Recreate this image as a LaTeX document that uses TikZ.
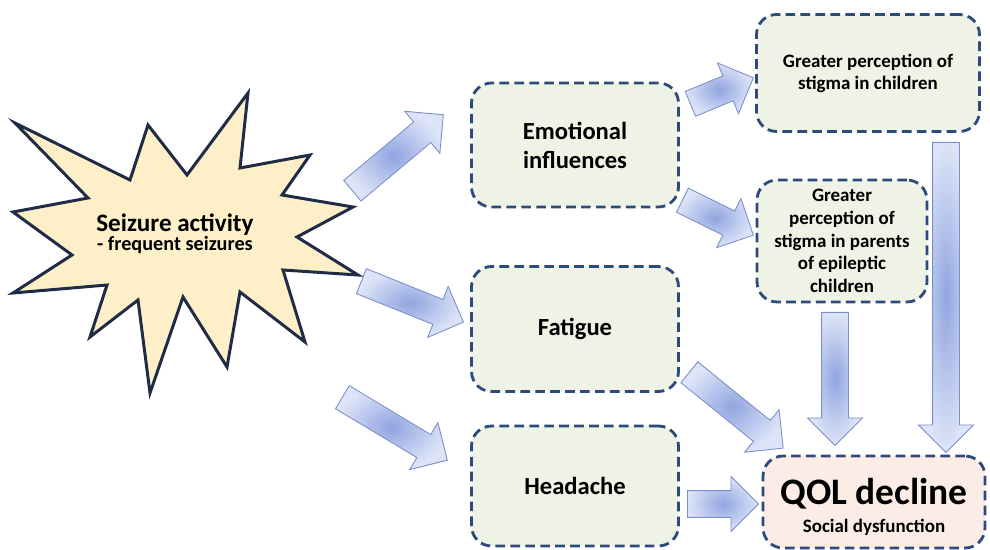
\documentclass[tikz,border=0pt]{standalone}
\usepackage{fontspec}
\setmainfont{Carlito}
\usetikzlibrary{shapes.arrows,calc}

\definecolor{boxline}{HTML}{2E4A7A}
\definecolor{boxfill}{HTML}{EEF3E6}
\definecolor{qolfill}{HTML}{FBEDE6}
\definecolor{starfill}{HTML}{FDEFC7}
\definecolor{starline}{HTML}{1F2B47}
\definecolor{arrowin}{HTML}{90A5E0}
\definecolor{arrowout}{HTML}{DDE4F7}
\definecolor{arrowline}{HTML}{7A8FCB}

\newcommand{\fatarrow}[2]{%
	\path let \p1=($(#2)-(#1)$), \n1={veclen(\x1,\y1)}, \n2={atan2(\y1,\x1)} in
	node[blockarrow, minimum height=\n1, rotate=\n2, anchor=tail] at (#1) {};}

\begin{document}
\begin{tikzpicture}[
		x=0.02cm, y=-0.02cm,
		every node/.style={font=\bfseries, align=center},
		effect/.style={draw=boxline, fill=boxfill, line width=1.6pt,
			dash pattern=on 5.5pt off 3pt, rounded corners=0.4cm},
		blockarrow/.style={single arrow, draw=arrowline, line width=0.5pt,
			inner color=arrowin, outer color=arrowout,
			inner xsep=0pt, inner ysep=0.26cm, font=\fontsize{1}{1}\selectfont,
			minimum width=1.08cm, single arrow head extend=0.28cm,
			single arrow tip angle=90}
		]
		\useasboundingbox (0,0) rectangle (990,550);

		\draw[starline, fill=starfill, line width=1.7pt, line join=miter]
		(15,123) -- (130,180) -- (148,125) -- (187,175) -- (248,93) -- (240,168)
		-- (310,155) -- (282,195) -- (353,207) -- (297,237) -- (358,275)
		-- (283,270) -- (305,342) -- (240,292) -- (227,367) -- (183,297)
		-- (150,393) -- (138,300) -- (90,337) -- (107,285) -- (13,293)
		-- (72,255) -- (13,212) -- (88,198) -- cycle;
		\node (seizure) at (175,234) {{\fontsize{14.3}{16}\selectfont Seizure activity}\\[-1pt]
			{\fontsize{11.5}{13}\selectfont - frequent seizures}};

		\node[effect, minimum width=4.14cm, minimum height=2.48cm,
		font=\bfseries\fontsize{14}{16.5}\selectfont] (emo) at (575,145) {Emotional\\influences};
		\node[effect, minimum width=4.14cm, minimum height=2.5cm,
		font=\bfseries\fontsize{14}{16.5}\selectfont] (fatigue) at (575,329) {Fatigue};
		\node[effect, minimum width=4.14cm, minimum height=2.4cm,
		font=\bfseries\fontsize{14}{16.5}\selectfont] (headache) at (575,486) {Headache};
		\node[effect, minimum width=4.46cm, minimum height=2.34cm,
		font=\bfseries\fontsize{10.8}{12.5}\selectfont] (stigmakid) at (868,73)
		{Greater perception of\\stigma in children};
		\node[effect, minimum width=3.4cm, minimum height=2.44cm,
		font=\bfseries\fontsize{10.8}{13}\selectfont] (stigmapar) at (842,241)
		{Greater\\perception of\\stigma in parents\\of epileptic\\children};
		\node[effect, fill=qolfill, minimum width=4.44cm, minimum height=1.84cm] (qol) at (874,502) {};
		\node (qoltext) at ([yshift=-0.1cm]qol.center)
		{{\fontsize{21.3}{23}\selectfont QOL decline}\\[4pt]{\fontsize{10.8}{12}\selectfont Social dysfunction}};

		\coordinate (a1) at (352,191); \coordinate (b1) at (443,115);
		\coordinate (a2) at (361,281); \coordinate (b2) at (463,322);
		\coordinate (a3) at (342,397); \coordinate (b3) at (447,460);
		\coordinate (a4) at (690,104); \coordinate (b4) at (753,78);
		\coordinate (a5) at (682,200); \coordinate (b5) at (753,235);
		\coordinate (a6) at (689,372); \coordinate (b6) at (783,448);
		\coordinate (a7) at (687,504); \coordinate (b7) at (758,504);
		\coordinate (a8) at (835,312); \coordinate (b8) at (835,445);
		\coordinate (a9) at (946,142); \coordinate (b9) at (946,452);

		\foreach \i in {1,...,9}{
			\fatarrow{a\i}{b\i}
		}
	\end{tikzpicture}
\end{document}
